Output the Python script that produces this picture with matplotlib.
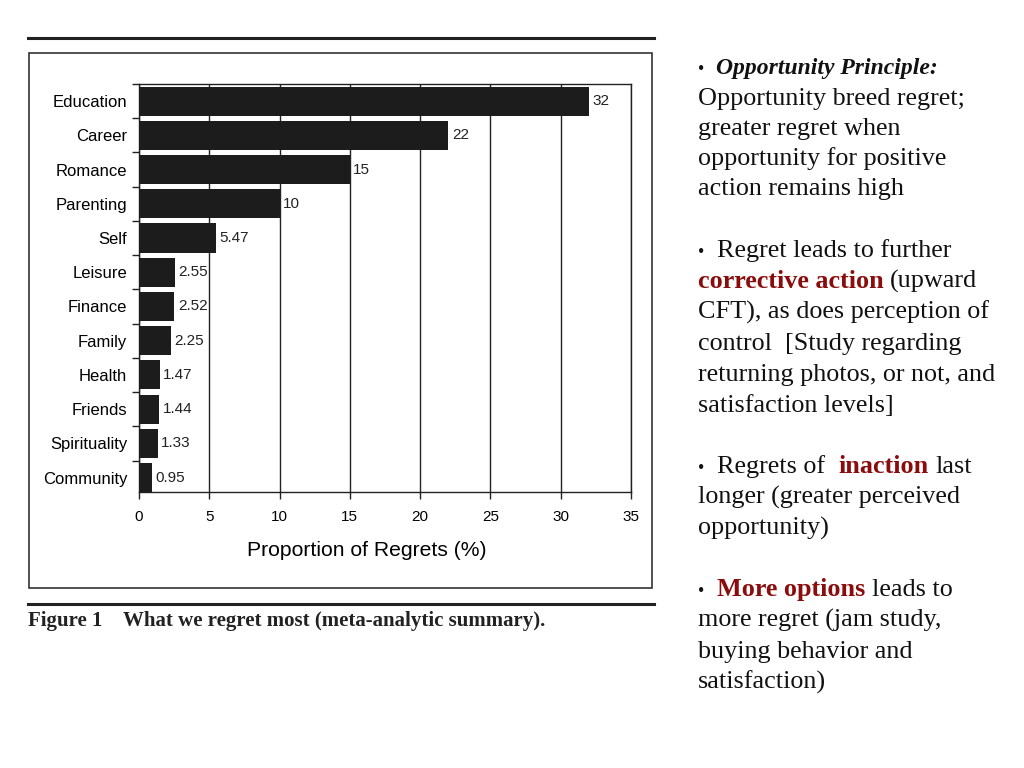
import matplotlib
matplotlib.use("Agg")
import matplotlib.pyplot as plt
from matplotlib.patches import Rectangle
from matplotlib.lines import Line2D
from matplotlib.ticker import FixedLocator

categories = ['Education', 'Career', 'Romance', 'Parenting', 'Self', 'Leisure',
              'Finance', 'Family', 'Health', 'Friends', 'Spirituality', 'Community']
values = [32, 22, 15, 10, 5.47, 2.55, 2.52, 2.25, 1.47, 1.44, 1.33, 0.95]
value_labels = ['32', '22', '15', '10', '5.47', '2.55', '2.52', '2.25', '1.47', '1.44', '1.33', '0.95']
xticks = [0, 5, 10, 15, 20, 25, 30, 35]

DARK_RED = '#8a0c0c'
W, H = 1024, 768

fig = plt.figure(figsize=(W / 100, H / 100), dpi=100)


def fx(px):
    return px / W


def fy(py):
    return 1 - py / H


# frame around the figure + rules above and below
fig.add_artist(Rectangle((fx(29), fy(588)), fx(652) - fx(29), fy(53) - fy(588),
                         transform=fig.transFigure, fill=False, ec='#333333', lw=1.2))
fig.add_artist(Line2D([fx(28), fx(654)], [fy(38), fy(38)], transform=fig.transFigure,
                      color='#222222', lw=2.2))
fig.add_artist(Line2D([fx(28), fx(654)], [fy(604), fy(604)], transform=fig.transFigure,
                      color='#222222', lw=2.2))

# bar chart
ax = fig.add_axes([fx(139), fy(492), fx(631) - fx(139), fy(84) - fy(492)])
ypos = list(range(len(categories)))
ax.barh(ypos, values, height=0.85, color='#1c1c1c', zorder=3)
for y, v, lab in zip(ypos, values, value_labels):
    ax.text(v + 0.25, y, lab, va='center', ha='left', fontsize=11,
            family='Liberation Sans', color='#222222')

ax.set_xlim(0, 35)
ax.set_ylim(11.42, -0.5)
ax.set_xticks(xticks)
ax.set_xticklabels([str(t) for t in xticks], family='Liberation Sans', fontsize=11)
ax.set_yticks(ypos)
ax.set_yticklabels(categories, family='Liberation Sans', fontsize=12)
ax.yaxis.set_minor_locator(FixedLocator([i + 0.5 for i in range(-1, len(categories))]))
ax.tick_params(axis='y', which='major', length=0, pad=8.5)
ax.tick_params(axis='y', which='minor', length=5, width=1, color='#222222')
ax.tick_params(axis='x', which='major', length=5, width=1, pad=8, color='#222222')
ax.grid(axis='x', color='#222222', lw=1, zorder=1)
for s in ax.spines.values():
    s.set_color('#222222')
    s.set_linewidth(1)
ax.set_xlabel('Proportion of Regrets (%)', family='Liberation Sans', fontsize=15.2)
ax.xaxis.set_label_coords((367 - 139) / 492, -(550 - 492) / 408, transform=ax.transAxes)
ax.xaxis.label.set_va('center')

fig.text(fx(28), fy(621), 'Figure 1    What we regret most (meta-analytic summary).',
         family='Liberation Serif', fontweight='bold', fontsize=15, va='center', ha='left',
         color='#222222')

# right-hand bullet text
renderer = fig.canvas.get_renderer()
SERIF = 'Liberation Serif'
FS = 18.8


def width_px(s, **kw):
    t = fig.text(0, 0, s, **kw)
    w = t.get_window_extent(renderer).width
    t.remove()
    return w


def line(segments, x, y):
    # segments: list of (text, color, weight, style, size)
    for s, color, weight, style, size in segments:
        kw = dict(family=SERIF, fontsize=size, fontweight=weight, fontstyle=style)
        lead = len(s) - len(s.lstrip(' '))
        if lead:
            sp = width_px('a a', **kw) - width_px('aa', **kw)
            x += sp * lead
            s = s.lstrip(' ')
        if s:
            fig.text(fx(x), fy(y), s, color=color, va='baseline', ha='left', **kw)
            x += width_px(s, **kw)


N = ('normal', 'normal')
B = ('bold', 'normal')
K = '#111111'

bullet_lines = [
    (74, [('•', K, 'normal', 'normal', 13), ('  Opportunity Principle:', K, 'bold', 'italic', 17)]),
    (105, [('Opportunity breed regret;', K, *N, FS)]),
    (135, [('greater regret when', K, *N, FS)]),
    (165, [('opportunity for positive', K, *N, FS)]),
    (195, [('action remains high', K, *N, FS)]),
    (257, [('•', K, 'normal', 'normal', 13), ('  Regret leads to further', K, *N, FS)]),
    (288, [('corrective action', DARK_RED, *B, FS), (' (upward', K, *N, FS)]),
    (319, [('CFT), as does perception of', K, *N, FS)]),
    (350, [('control  [Study regarding', K, *N, FS)]),
    (381, [('returning photos, or not, and', K, *N, FS)]),
    (412, [('satisfaction levels]', K, *N, FS)]),
    (473, [('•', K, 'normal', 'normal', 13), ('  Regrets of', K, *N, FS),
           ('  inaction', DARK_RED, *B, FS), (' last', K, *N, FS)]),
    (504, [('longer (greater perceived', K, *N, FS)]),
    (535, [('opportunity)', K, *N, FS)]),
    (596, [('•', K, 'normal', 'normal', 13), ('  More options', DARK_RED, *B, FS),
           (' leads to', K, *N, FS)]),
    (627, [('more regret (jam study,', K, *N, FS)]),
    (658, [('buying behavior and', K, *N, FS)]),
    (689, [('satisfaction)', K, *N, FS)]),
]
for y, segs in bullet_lines:
    line(segs, 698, y)

fig.savefig('out.png', dpi=100)
